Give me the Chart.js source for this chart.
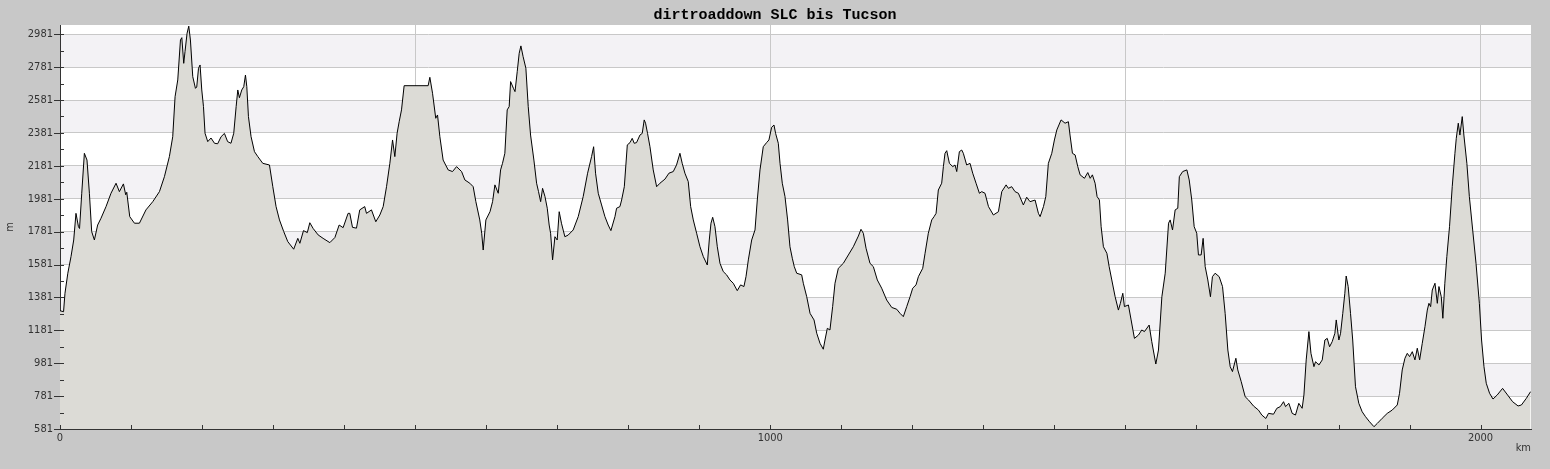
<!DOCTYPE html>
<html lang="de">
<head>
    <meta charset="UTF-8">
    <title>dirtroaddown SLC bis Tucson</title>
    <script src="https://cdn.jsdelivr.net/npm/chart.js"></script>
    <style>
        html, body {
            margin: 0;
            padding: 0;
            background-color: #c8c8c8;
        }
        canvas {
            display: block;
        }
    </style>
</head>
<body>
    <canvas id="profil" width="1550" height="469"></canvas>

    <script>
        // Höhenprofil: Distanz (km) und Höhe (m)
        const distanz = [
            0, 5, 7, 11, 15.5, 19.3, 22.5, 26, 27.5, 30.6, 34.3, 38, 41.4, 44.6, 48.4, 53, 57.7, 64.8, 71.8, 78.9,
            83.6, 89.3, 92.5, 94, 98.2, 104.8, 111.8, 121, 130.6, 140, 147, 154, 158.7, 162, 165.8, 169.6, 171.5, 174.2, 176, 178.9,
            181.3, 183.6, 186.9, 190.7, 192.5, 195, 197.2, 199.6, 202, 204.2, 208, 212.6, 217.5, 222, 226.8, 231.5, 236, 240.7, 244.6, 248,
            250.3, 252.6, 255.9, 258.7, 261.1, 263, 265.3, 269, 273.8, 278.5, 285.5, 294.9, 299.6, 304.2, 309, 315, 320.7, 329, 334.8, 337.7,
            342.8, 348.2, 351.7, 356.4, 363.4, 370.4, 379.9, 387, 393, 398.6, 405.6, 408, 411.8, 417.4, 422, 429, 431.5, 438.5, 444.6, 450.3,
            455, 459.7, 464.4, 468.2, 471.4, 474.6, 477.5, 480.8, 484.5, 518.3, 520.7, 524.5, 529, 531.5, 534.8, 539.4, 546.5, 552.6, 558.3, 565.4,
            570, 577, 581.7, 585.5, 591, 593.7, 595.8, 599.6, 605.4, 609, 612.3, 617, 620.3, 623, 626.3, 629.6, 632.4, 634.4, 638.4, 640.6,
            643.7, 646.5, 648.9, 652, 655.9, 659.2, 662.5, 667.2, 671, 673.7, 676.7, 679.4, 682.8, 686, 688.7, 690.7, 693.5, 696.8, 700, 702.8,
            706, 710.8, 715.5, 722.5, 729.6, 736.6, 742.8, 748.4, 751.3, 754, 757.8, 762.5, 767.2, 771.8, 775.6, 781.3, 783.6, 788.3, 790.7, 794.5,
            798.7, 802.5, 805.6, 808.4, 811.7, 816.5, 819.7, 822.5, 824.4, 827.2, 830.6, 835.2, 840, 844.6, 851.7, 857.3, 863.4, 868, 872.8, 876,
            879.8, 884.5, 887.9, 891.6, 896.3, 901, 905.7, 911.3, 914.1, 916.5, 918.9, 922.1, 925.4, 929.2, 933.8, 938.5, 943.2, 947.9, 953.5, 958.2,
            962.9, 965.8, 969.1, 973.8, 978.5, 981.7, 985.5, 990.1, 994.8, 998.1, 1001.9, 1005.2, 1007.5, 1011.3, 1013.7, 1016.9, 1020.7, 1024.4, 1027.7, 1031,
            1033.8, 1037.2, 1044.2, 1046.5, 1051.3, 1056, 1061.6, 1065.4, 1070, 1074.6, 1077, 1080.3, 1084, 1087.8, 1091.1, 1095.8, 1102.8, 1109.9, 1116.9, 1124,
            1127.7, 1131, 1134.8, 1140.4, 1145.1, 1150.7, 1156.8, 1163.9, 1171, 1178, 1182.7, 1187.3, 1192.1, 1196.8, 1200.5, 1205.2, 1208.5, 1214.6, 1217.9, 1222.5,
            1227.3, 1230.6, 1233.4, 1236.6, 1241.3, 1243.7, 1246, 1248.4, 1252.2, 1256.9, 1260.1, 1262.5, 1266.2, 1269.5, 1271.8, 1276.5, 1281.2, 1285, 1289.7, 1294.4,
            1297.7, 1302.3, 1307.2, 1314.1, 1321.2, 1325.9, 1332, 1335.2, 1339.9, 1344.6, 1349.3, 1356.3, 1361, 1365.7, 1372.8, 1377.5, 1379.9, 1384.6, 1387.9, 1391.5,
            1396.3, 1400, 1403.4, 1409.4, 1415, 1419.7, 1422, 1425.4, 1429.2, 1432.9, 1436.2, 1442.3, 1447, 1450.4, 1453.5, 1457.3, 1460.1, 1463.4, 1465.8, 1469,
            1473.9, 1477.1, 1480.8, 1485.5, 1490.1, 1492.9, 1496.3, 1498.6, 1504.2, 1508, 1512.7, 1518.3, 1523, 1526.8, 1533.4, 1537.1, 1542.8, 1546.5, 1551.3, 1556,
            1560.7, 1563, 1566.3, 1570, 1573.7, 1575.9, 1580.6, 1586.5, 1589.8, 1593.4, 1596.8, 1600.4, 1602.8, 1606.6, 1609.4, 1612.3, 1616, 1619.7, 1622.5, 1626.3,
            1632, 1636.7, 1640.4, 1644.2, 1647.5, 1650.7, 1655.5, 1658.2, 1663, 1668.6, 1673.4, 1680.3, 1687.3, 1692, 1697.7, 1701.4, 1708.5, 1713.2, 1718, 1722.6,
            1725.4, 1730.1, 1734.8, 1739.4, 1744.1, 1748.8, 1751.3, 1754.5, 1758.3, 1761.2, 1765.4, 1767.7, 1772.4, 1777.1, 1780.8, 1784.1, 1787.4, 1791.1, 1794.9, 1796.8,
            1800.5, 1802.9, 1806, 1808.9, 1810.8, 1813.6, 1816.9, 1820, 1823.9, 1828.6, 1833.3, 1838, 1843.7, 1849.9, 1854.6, 1861.5, 1868.6, 1875.6, 1882.7, 1885.9,
            1889.7, 1893.5, 1896.8, 1900.1, 1903.9, 1907.6, 1910.9, 1914.2, 1917.9, 1921.7, 1925, 1927.3, 1929.7, 1932, 1935.8, 1939.1, 1941.4, 1944.7, 1946.9, 1949.7,
            1952.5, 1956.3, 1960.1, 1963.9, 1965.8, 1968.6, 1970.9, 1974.2, 1976.5, 1980.7, 1984.2, 1988.9, 1993.6, 1998.3, 2001.4, 2004.8, 2008, 2012.7, 2017.5, 2023.5,
            2031, 2038, 2045.1, 2052.8, 2057.5, 2064.5, 2070.4
        ];
        const hoehe = [
            1300, 1294, 1406, 1528, 1629, 1730, 1892, 1811, 1800, 2014, 2257, 2216, 2014, 1781, 1730, 1821, 1862, 1933, 2014, 2075,
            2024, 2071, 2005, 2020, 1872, 1832, 1832, 1913, 1963, 2024, 2115, 2237, 2358, 2601, 2703, 2946, 2960, 2804, 2875, 2987,
            3030, 2946, 2723, 2652, 2660, 2774, 2794, 2642, 2541, 2379, 2328, 2350, 2318, 2315, 2358, 2378, 2328, 2318, 2379, 2541,
            2642, 2595, 2642, 2662, 2733, 2662, 2480, 2358, 2267, 2237, 2196, 2186, 2054, 1933, 1852, 1781, 1720, 1674, 1740, 1710,
            1787, 1775, 1835, 1800, 1761, 1740, 1714, 1745, 1821, 1805, 1892, 1892, 1807, 1802, 1913, 1933, 1892, 1913, 1841, 1882,
            1933, 2054, 2196, 2338, 2237, 2379, 2449, 2521, 2668, 2668, 2719, 2622, 2470, 2490, 2358, 2216, 2156, 2146, 2176, 2146,
            2095, 2075, 2054, 1963, 1852, 1771, 1669, 1852, 1902, 1963, 2065, 2014, 2156, 2196, 2257, 2521, 2541, 2693, 2652, 2632,
            2753, 2865, 2910, 2845, 2774, 2541, 2368, 2216, 2075, 2024, 1963, 2044, 1994, 1923, 1821, 1771, 1609, 1750, 1730, 1902,
            1832, 1750, 1760, 1791, 1872, 1994, 2136, 2237, 2297, 2136, 2014, 1943, 1872, 1821, 1787, 1872, 1923, 1933, 1973, 2054,
            2308, 2322, 2348, 2318, 2322, 2368, 2378, 2460, 2440, 2378, 2297, 2156, 2054, 2075, 2100, 2136, 2146, 2186, 2257, 2196,
            2136, 2085, 1933, 1852, 1771, 1689, 1629, 1578, 1730, 1832, 1868, 1811, 1689, 1588, 1538, 1518, 1487, 1467, 1422, 1457,
            1447, 1507, 1609, 1730, 1791, 1973, 2156, 2297, 2322, 2338, 2415, 2429, 2378, 2318, 2196, 2075, 1994, 1852, 1689, 1619,
            1568, 1528, 1518, 1467, 1385, 1284, 1244, 1163, 1102, 1066, 1122, 1193, 1183, 1325, 1467, 1558, 1588, 1639, 1689, 1754,
            1795, 1771, 1680, 1588, 1568, 1487, 1437, 1365, 1320, 1309, 1284, 1264, 1325, 1385, 1437, 1457, 1507, 1558, 1649, 1771,
            1852, 1872, 1892, 2034, 2075, 2176, 2257, 2273, 2196, 2176, 2186, 2146, 2267, 2277, 2257, 2186, 2196, 2136, 2075, 2014,
            2024, 2014, 1933, 1882, 1902, 2024, 2065, 2044, 2054, 2024, 2014, 1943, 1990, 1963, 1973, 1892, 1872, 1933, 1994, 2196,
            2257, 2338, 2399, 2460, 2440, 2449, 2368, 2257, 2247, 2176, 2126, 2105, 2140, 2105, 2126, 2075, 1994, 1973, 1811, 1689,
            1649, 1568, 1487, 1385, 1304, 1345, 1406, 1325, 1335, 1244, 1132, 1152, 1183, 1173, 1213, 1112, 976, 1061, 1385, 1528,
            1832, 1852, 1791, 1913, 1923, 2115, 2146, 2156, 2095, 1973, 1811, 1771, 1639, 1639, 1740, 1568, 1487, 1385, 1507, 1528,
            1507, 1447, 1284, 1061, 960, 930, 1011, 940, 869, 777, 757, 721, 696, 666, 645, 676, 671, 707, 717, 747,
            717, 737, 676, 666, 737, 707, 788, 1001, 1173, 1041, 960, 990, 970, 1001, 1122, 1132, 1081, 1112, 1163, 1244,
            1122, 1163, 1284, 1406, 1511, 1447, 1284, 1122, 838, 737, 686, 656, 625, 595, 615, 646, 676, 696, 727, 798,
            940, 1011, 1041, 1021, 1051, 1001, 1072, 1001, 1102, 1203, 1304, 1345, 1325, 1426, 1467, 1345, 1447, 1385, 1254, 1467,
            1629, 1811, 2054, 2257, 2348, 2440, 2368, 2480, 2368, 2196, 1994, 1791, 1588, 1345, 1122, 960, 859, 798, 763, 788,
            828, 788, 747, 721, 727, 768, 808
        ];

        // Achsenbeschriftungen
        const yBeschriftung = [581, 781, 981, 1181, 1381, 1581, 1781, 1981, 2181, 2381, 2581, 2781, 2981];
        const xBeschriftung = [0, 1000, 2000];
        const xGitter = [500, 1000, 1500, 2000];

        const yMin = 581;
        const yMax = 3037;
        const xMax = 2071;

        const schrift = {family: "'DejaVu Sans Condensed', 'DejaVu Sans', sans-serif", size: 11};

        // Hintergrund mit abwechselnden Streifen
        const streifenPlugin = {
            id: 'streifen',
            beforeDraw(chart) {
                const {ctx, chartArea: a, scales: {y}} = chart;
                ctx.save();
                ctx.fillStyle = '#ffffff';
                ctx.fillRect(a.left, a.top, a.right - a.left, a.bottom - a.top);
                ctx.fillStyle = '#f3f2f5';
                for (let i = 1; i < yBeschriftung.length - 1; i += 2) {
                    const oben = y.getPixelForValue(yBeschriftung[i + 1]);
                    const unten = y.getPixelForValue(yBeschriftung[i]);
                    ctx.fillRect(a.left, oben, a.right - a.left, unten - oben);
                }
                ctx.restore();
            }
        };

        // Kleine Striche an den Achsen
        const strichePlugin = {
            id: 'striche',
            afterDraw(chart) {
                const {ctx, chartArea: a, scales: {x, y}} = chart;
                ctx.save();
                ctx.strokeStyle = '#333333';
                ctx.lineWidth = 1;
                ctx.beginPath();
                x.ticks.forEach(t => {
                    const px = Math.round(x.getPixelForValue(t.value)) + 0.5;
                    ctx.moveTo(px, a.bottom - 4);
                    ctx.lineTo(px, a.bottom);
                });
                y.ticks.forEach(t => {
                    const py = Math.round(y.getPixelForValue(t.value)) + 0.5;
                    const lang = yBeschriftung.includes(t.value);
                    ctx.moveTo(a.left - (lang ? 6 : 0), py);
                    ctx.lineTo(a.left + 4, py);
                });
                ctx.stroke();
                ctx.restore();
            }
        };

        const punkte = distanz.map((km, i) => ({x: km, y: hoehe[i]}));

        new Chart(document.getElementById('profil'), {
            type: 'line',
            data: {
                datasets: [{
                    data: punkte,
                    borderColor: '#000000',
                    borderWidth: 1,
                    backgroundColor: '#dcdbd6',
                    fill: 'start',
                    pointRadius: 0,
                    tension: 0
                }]
            },
            options: {
                responsive: false,
                animation: false,
                devicePixelRatio: 1,
                layout: {
                    padding: 0
                },
                plugins: {
                    legend: {display: false},
                    tooltip: {enabled: false},
                    title: {
                        display: true,
                        text: 'dirtroaddown SLC bis Tucson',
                        color: '#000000',
                        font: {family: 'Liberation Mono', size: 15, weight: 'bold', lineHeight: 1},
                        padding: {top: 7.5, bottom: 2.5}
                    }
                },
                scales: {
                    x: {
                        type: 'linear',
                        min: 0,
                        max: xMax,
                        afterBuildTicks(scale) {
                            const t = [];
                            for (let v = 0; v <= 2000; v += 100) t.push({value: v});
                            scale.ticks = t;
                        },
                        afterFit(scale) { scale.height = 40; },
                        ticks: {
                            autoSkip: false,
                            maxRotation: 0,
                            padding: 3,
                            color: '#333333',
                            font: schrift,
                            callback: v => xBeschriftung.includes(v) ? String(v) : ''
                        },
                        grid: {
                            drawTicks: false,
                            color: c => (c.tick && xGitter.includes(c.tick.value)) ? '#c8c8c8' : 'rgba(0,0,0,0)'
                        },
                        border: {display: true, color: '#333333', width: 1},
                        title: {
                            display: true,
                            text: 'km',
                            align: 'end',
                            color: '#333333',
                            font: {...schrift, lineHeight: 1.2},
                            padding: {top: 0, bottom: 14}
                        }
                    },
                    y: {
                        type: 'linear',
                        min: yMin,
                        max: yMax,
                        afterBuildTicks(scale) {
                            const t = [];
                            for (let v = yMin; v <= 2981; v += 100) t.push({value: v});
                            scale.ticks = t;
                        },
                        afterFit(scale) { scale.width = 60; },
                        ticks: {
                            autoSkip: false,
                            padding: 7,
                            color: '#333333',
                            font: schrift,
                            callback: v => yBeschriftung.includes(v) ? String(v) : ''
                        },
                        grid: {
                            drawTicks: false,
                            color: c => (c.tick && yBeschriftung.includes(c.tick.value)) ? '#c8c8c8' : 'rgba(0,0,0,0)'
                        },
                        border: {display: true, color: '#333333', width: 1},
                        title: {
                            display: true,
                            text: 'm',
                            color: '#333333',
                            font: {...schrift, lineHeight: 1.2},
                            padding: {top: 4, bottom: 0}
                        }
                    },
                    // leerer Rand rechts, damit der Titel mittig über dem ganzen Bild steht
                    rand: {
                        type: 'linear',
                        position: 'right',
                        min: yMin,
                        max: yMax,
                        afterFit(scale) { scale.width = 19; },
                        ticks: {display: false},
                        grid: {display: false, drawOnChartArea: false},
                        border: {display: false}
                    }
                }
            },
            plugins: [streifenPlugin, strichePlugin]
        });
    </script>
</body>
</html>
